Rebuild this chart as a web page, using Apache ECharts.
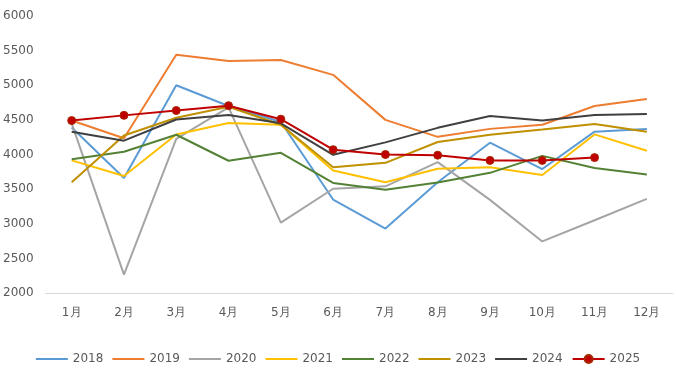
<!DOCTYPE html>
<html><head><meta charset="utf-8">
<script src="https://cdn.jsdelivr.net/npm/echarts@6/dist/echarts.min.js"></script>
<style>html,body{margin:0;padding:0;background:#fff}#c{width:676px;height:368px}</style>
</head><body><div id="c"></div>
<script>
const months = ['1月','2月','3月','4月','5月','6月','7月','8月','9月','10月','11月','12月'];
const s2018 = [4390,3660,5000,4700,4470,3350,2930,3600,4170,3790,4330,4370];
const s2019 = [4490,4235,5440,5350,5365,5150,4500,4255,4370,4430,4700,4800];
const s2020 = [4450,2265,4225,4680,3015,3505,3540,3890,3345,2745,3050,3360];
const s2021 = [3915,3690,4290,4455,4430,3770,3600,3795,3815,3705,4290,4055];
const s2022 = [3930,4040,4285,3910,4025,3590,3490,3595,3735,3980,3805,3710];
const s2023 = [3600,4275,4530,4690,4430,3815,3880,4180,4285,4360,4440,4330];
const s2024 = [4330,4200,4505,4570,4450,3995,4175,4385,4555,4490,4570,4585];
const s2025 = [4490,4565,4635,4705,4510,4070,4000,3990,3915,3915,3955];
const names = ['2018','2019','2020','2021','2022','2023','2024','2025'];
const colors = ['#5B9BD5','#ED7D31','#A5A5A5','#FFC000','#548235','#BF9000','#404040','#C00000'];
const data = [s2018,s2019,s2020,s2021,s2022,s2023,s2024,s2025];
const font = '"DejaVu Sans", sans-serif';
const series = names.map((n,i)=>{
  const s = {
    name:n, type:'line', data:data[i], smooth:false,
    symbol: i===7?'circle':'none', symbolSize:8, showSymbol:i===7,
    lineStyle:{width:2,color:colors[i]},
    itemStyle:{color:colors[i]},
    z: i===7?10:2, animation:false
  };
  if(i===7){ s.itemStyle.borderColor='#A52A00'; s.itemStyle.borderWidth=1; }
  return s;
});
const lineIcon = 'path://M0,4 L32,4 L32,6 L0,6 Z';
const chart = echarts.init(document.getElementById('c'));
chart.setOption({
  animation:false,
  color:colors,
  grid:{left:45,right:3,top:16,bottom:75,containLabel:false},
  legend:{top:347,left:'center',itemWidth:32,itemHeight:10,itemGap:9,
    textStyle:{color:'#595959',fontSize:12,fontFamily:font,lineHeight:14},
    data:names.map((n,i)=> i===7 ? {name:n} : {name:n, icon:lineIcon})},
  xAxis:{type:'category',data:months,boundaryGap:true,
    axisLine:{lineStyle:{color:'#D9D9D9',width:1}},axisTick:{show:false},
    axisLabel:{color:'#595959',fontSize:12,fontFamily:font,margin:14}},
  yAxis:{type:'value',min:2000,max:6000,interval:500,
    axisLine:{show:false},axisTick:{show:false},splitLine:{show:false},
    axisLabel:{color:'#595959',fontSize:12,fontFamily:font,margin:12,formatter:v=>String(v)}},
  series:series
});
</script></body></html>
